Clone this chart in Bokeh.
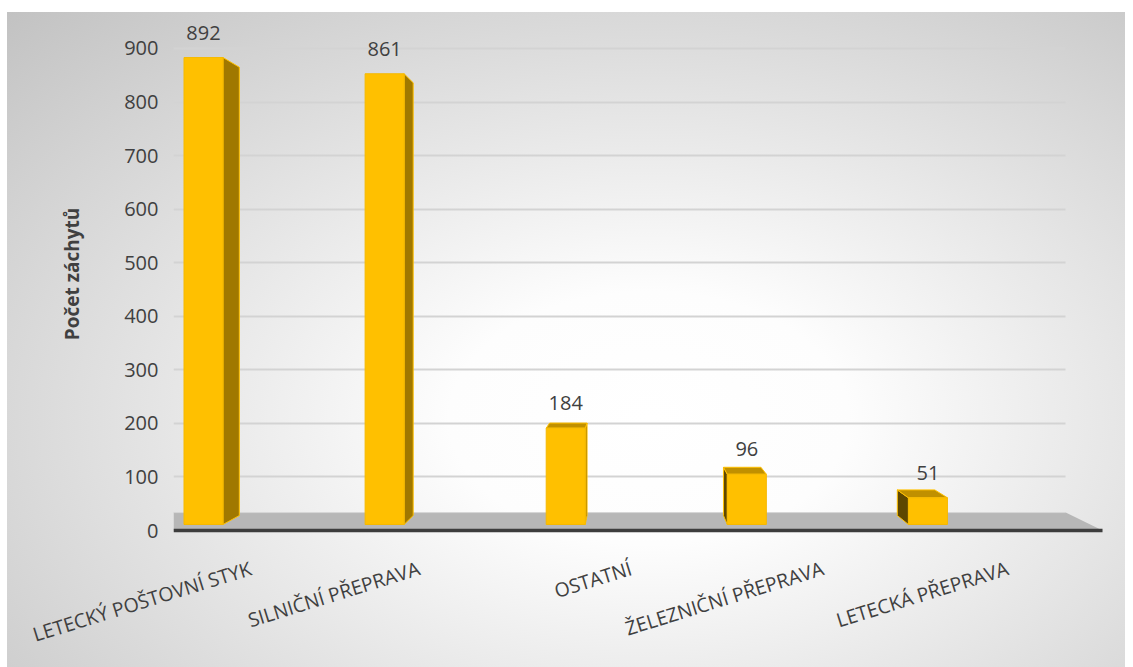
from bokeh.plotting import figure
from bokeh.models import Range1d, FixedTicker, ColumnDataSource, LinearAxis
from bokeh.core.properties import value
from bokeh.embed import file_html
from bokeh.resources import INLINE

# ---------------- data ----------------
categories = ["LETECKÝ POŠTOVNÍ STYK", "SILNIČNÍ PŘEPRAVA", "OSTATNÍ",
              "ŽELEZNIČNÍ PŘEPRAVA", "LETECKÁ PŘEPRAVA"]
counts = [892, 861, 184, 96, 51]
y_ticks = [0, 100, 200, 300, 400, 500, 600, 700, 800, 900]
y_title = "Počet záchytů"

# ---------------- style ----------------
FONT = "Open Sans"
TEXT_COLOR = "#404040"
FRONT = "#FFC000"
RIGHT_SIDE = "#A07800"
LEFT_SIDE = "#5E4700"
TOP_SIDE = "#C09000"

W, H = 1125, 667
FRAME_BOTTOM = 533
X_START, X_END = -0.1657, 4.986
MAIN_START, MAIN_END = -5.6, 963.4       # back wall scale (grid / axis)
FRONT_START, FRONT_END = -17.2, 974.2    # front plane scale (bars)
FLOOR_L, FLOOR_R = -0.1657, 4.964
HW = 0.1077            # half bar width
VX, VY_FRONT, VY_MAIN = 2.36, 428.0, 429.0   # vanishing point
T_BAR, T_FLOOR = 0.04, 0.078
LABEL_SHIFT = [0.26, 0.19, 0.36, 0.42, 0.44]  # perspective shift of category labels

p = figure(width=W, height=H, output_backend="svg", toolbar_location=None,
           x_range=Range1d(X_START, X_END), y_range=Range1d(MAIN_START, MAIN_END),
           min_border_left=173, min_border_right=W - 1106, min_border_top=14,
           min_border_bottom=H - FRAME_BOTTOM, x_axis_location=None, y_axis_location=None)
p.extra_y_ranges = {"front": Range1d(FRONT_START, FRONT_END)}
p.background_fill_color = None
p.border_fill_color = None
p.outline_line_color = None
p.styles = {
    "background-image": "radial-gradient(ellipse farthest-corner at 57% 62%, #ffffff 0%, #fdfdfd 22%, #c2c2c2 100%)",
    "background-repeat": "no-repeat",
    "background-position": "7px 12px",
    "background-size": "1126px 655px",
}

# y axis (back wall)
yax = LinearAxis(ticker=FixedTicker(ticks=y_ticks))
yax.axis_line_color = None
yax.major_tick_line_color = None
yax.major_tick_out = 0
yax.major_tick_in = 0
yax.minor_tick_line_color = None
yax.major_label_text_font = FONT
yax.major_label_text_font_size = "20px"
yax.major_label_text_color = TEXT_COLOR
yax.major_label_standoff = 15
yax.axis_label = y_title
yax.axis_label_text_font = FONT
yax.axis_label_text_font_size = "19px"
yax.axis_label_text_font_style = "bold"
yax.axis_label_text_color = TEXT_COLOR
yax.axis_label_standoff = 36
p.add_layout(yax, "left")

# x axis (category labels, anchored on front floor edge)
tick_pos = [round(i + s, 3) for i, s in enumerate(LABEL_SHIFT)]
xax = LinearAxis(ticker=FixedTicker(ticks=tick_pos))
xax.major_label_overrides = {t: c for t, c in zip(tick_pos, categories)}
xax.axis_line_color = None
xax.major_tick_line_color = None
xax.major_tick_out = 0
xax.major_tick_in = 0
xax.minor_tick_line_color = None
xax.major_label_orientation = 0.30
xax.major_label_text_font = FONT
xax.major_label_text_font_size = "19.5px"
xax.major_label_text_color = TEXT_COLOR
xax.major_label_standoff = 34
p.add_layout(xax, "below")

p.xgrid.grid_line_color = None
p.ygrid.ticker = FixedTicker(ticks=y_ticks)
p.ygrid.grid_line_color = "#d3d3d3"
p.ygrid.grid_line_width = 2
floor_back_r = FLOOR_R + T_FLOOR * (VX - FLOOR_R)
p.ygrid.cross_bounds = (FLOOR_L, floor_back_r)

# floor
fd = T_FLOOR * VY_MAIN
p.patch([FLOOR_L, FLOOR_R, floor_back_r, FLOOR_L], [0, 0, fd, fd],
        fill_color="#b7b7b7", line_color=None)
p.line([FLOOR_L, floor_back_r], [fd, fd], line_color="#d6d6d6", line_width=1)
p.line([FLOOR_L, FLOOR_R], [0, 0], line_color="#3d3d3d", line_width=3.5)


def back(px, py):
    return px + T_BAR * (VX - px), py + T_BAR * (VY_FRONT - py)


xs_f, ys_f, cols = [], [], []
for i, v in enumerate(counts):
    xl, xr = i - HW, i + HW
    if xr < VX:  # right side visible
        b1, b2 = back(xr, v), back(xr, 0)
        xs_f.append([xr, xr, b1[0], b2[0]]); ys_f.append([0, v, b1[1], b2[1]])
        cols.append(RIGHT_SIDE)
    if xl > VX:  # left side visible
        b1, b2 = back(xl, v), back(xl, 0)
        xs_f.append([xl, xl, b1[0], b2[0]]); ys_f.append([0, v, b1[1], b2[1]])
        cols.append(LEFT_SIDE)
    if v < VY_FRONT:  # top visible
        b1, b2 = back(xr, v), back(xl, v)
        xs_f.append([xl, xr, b1[0], b2[0]]); ys_f.append([v, v, b1[1], b2[1]])
        cols.append(TOP_SIDE)

p.patches(xs="xs", ys="ys", fill_color="c", line_color=FRONT, line_width=1,
          source=ColumnDataSource(dict(xs=xs_f, ys=ys_f, c=cols)),
          y_range_name="front")

src = ColumnDataSource(dict(x=list(range(len(categories))), top=counts,
                            lab=[str(c) for c in counts]))
p.vbar(x="x", top="top", bottom=0, width=2 * HW, source=src, y_range_name="front",
       fill_color=FRONT, line_color="#F5B900", line_width=1)
p.text(x="x", y="top", text="lab", source=src, y_range_name="front",
       text_align="center", text_baseline="bottom", y_offset=-18,
       text_font=value(FONT), text_font_size="20px", text_color=TEXT_COLOR)

open("out.html", "w").write(file_html(p, INLINE))
